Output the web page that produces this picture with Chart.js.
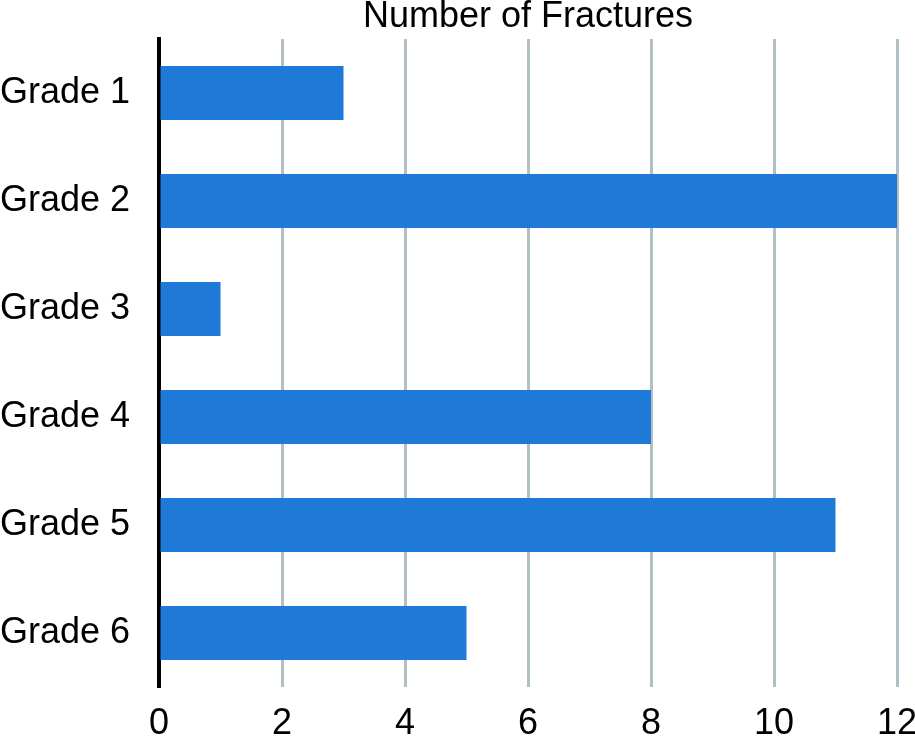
<!DOCTYPE html>
<html>
<head>
<meta charset="utf-8">
<script src="https://cdn.jsdelivr.net/npm/chart.js@4"></script>
<style>
  html, body { margin: 0; padding: 0; background: #fff; }
  #wrap { width: 915px; height: 741px; }
</style>
</head>
<body>
<div id="wrap"><canvas id="chart-fractures"></canvas></div>
<script>
const grades = ['Grade 1', 'Grade 2', 'Grade 3', 'Grade 4', 'Grade 5', 'Grade 6'];
const fractures = [3, 12, 1, 8, 11, 5];
const xTicks = [0, 2, 4, 6, 8, 10, 12];

const font = { family: 'Liberation Sans, Arial, sans-serif', size: 36 };

new Chart(document.getElementById('chart-fractures'), {
  type: 'bar',
  data: {
    labels: grades,
    datasets: [{
      label: 'Number of Fractures',
      data: fractures,
      backgroundColor: '#1e7ad6',
      borderWidth: 0,
      categoryPercentage: 1,
      barPercentage: 0.5
    }]
  },
  options: {
    indexAxis: 'y',
    responsive: true, maintainAspectRatio: false,
    animation: false,
    layout: { padding: 0 },
    plugins: { legend: { display: false }, tooltip: { enabled: false } },
    scales: {
      x: {
        min: 0, max: 12,
        afterBuildTicks: s => { s.ticks = xTicks.map(v => ({ value: v })); },
        afterFit: s => { s.height = 54; s.paddingRight = 18; s.paddingLeft = 0; },
        grid: { color: '#b0c0c4', lineWidth: 3, drawTicks: false },
        border: { display: false },
        ticks: { color: '#000', font: font, padding: 15, maxRotation: 0 }
      },
      x2: {
        type: 'linear', position: 'top', min: 0, max: 12,
        afterFit: s => { s.height = 39; s.paddingRight = 0; s.paddingLeft = 0; },
        grid: { display: false },
        border: { display: false },
        ticks: { display: false },
        title: { display: true, text: 'Number of Fractures', color: '#000', font: font, padding: { top: -5, bottom: 0 } }
      },
      y: {
        afterFit: s => { s.width = 159; },
        grid: { display: false, drawTicks: false },
        border: { display: true, color: '#000', width: 4 },
        ticks: { color: '#000', font: font, crossAlign: 'far', padding: 0 }
      }
    }
  }
});
</script>
</body>
</html>
